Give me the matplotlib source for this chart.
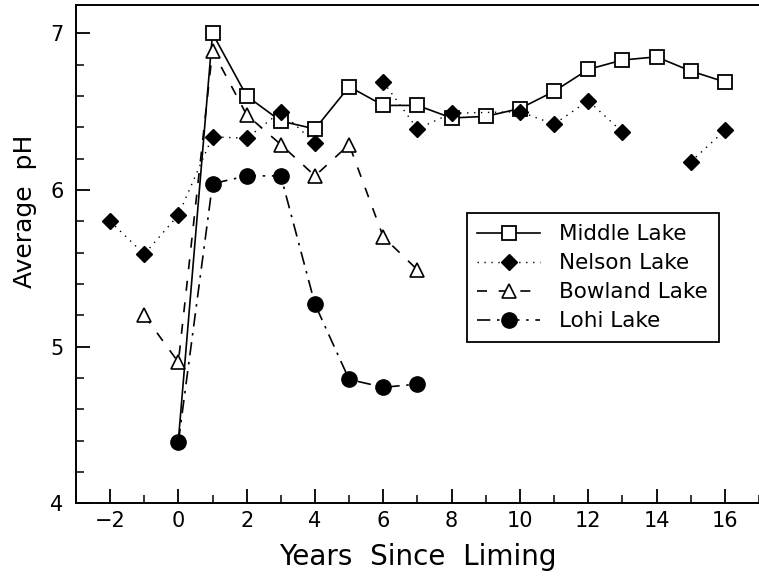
import matplotlib
matplotlib.use("Agg")
import matplotlib.pyplot as plt
import numpy as np
from matplotlib.ticker import MultipleLocator

plt.rcParams["font.family"] = ["DejaVu Sans"]

# Years since liming and average pH per lake (NaN = no sample, line broken)
middle_years = [0, 1, 2, 3, 4, 5, 6, 7, 8, 9, 10, 11, 12, 13, 14, 15, 16]
middle_ph = [4.40, 7.00, 6.60, 6.44, 6.39, 6.66, 6.54, 6.54, 6.46, 6.47,
             6.52, 6.63, 6.77, 6.83, 6.85, 6.76, 6.69]

nelson_years = [-2, -1, 0, 1, 2, 3, 4, 5, 6, 7, 8, 10, 11, 12, 13, 14, 15, 16]
nelson_ph = [5.80, 5.59, 5.84, 6.34, 6.33, 6.50, 6.30, np.nan, 6.69, 6.39,
             6.49, 6.50, 6.42, 6.57, 6.37, np.nan, 6.18, 6.38]

bowland_years = [-1, 0, 1, 2, 3, 4, 5, 6, 7]
bowland_ph = [5.20, 4.90, 6.89, 6.48, 6.29, 6.09, 6.29, 5.70, 5.49]

lohi_years = [0, 1, 2, 3, 4, 5, 6, 7]
lohi_ph = [4.39, 6.04, 6.09, 6.09, 5.27, 4.79, 4.74, 4.76]

fig = plt.figure(figsize=(7.59, 5.79), dpi=100)
ax = fig.add_axes([0.100, 0.131, 0.900, 0.860])

lw = 1.2
ax.plot(middle_years, middle_ph, color="black", lw=lw, ls="-",
        marker="s", ms=10, mfc="white", mec="black", mew=1.3,
        markevery=list(range(1, len(middle_years))), label="Middle Lake")
ax.plot(nelson_years, nelson_ph, color="black", lw=1.0, ls=(0, (1, 4)),
        marker="D", ms=8, mfc="black", mec="black", label="Nelson Lake")
ax.plot(bowland_years, bowland_ph, color="black", lw=lw, ls=(0, (6, 7)),
        marker="^", ms=10, mfc="white", mec="black", mew=1.2,
        label="Bowland Lake")
ax.plot(lohi_years, lohi_ph, color="black", lw=lw, ls=(0, (8, 4, 1.5, 4)),
        marker="o", ms=11, mfc="black", mec="black", label="Lohi Lake")

ax.set_xlim(-3, 17)
ax.set_ylim(4, 7.18)
ax.xaxis.set_major_locator(MultipleLocator(2))
ax.xaxis.set_minor_locator(MultipleLocator(1))
ax.yaxis.set_major_locator(MultipleLocator(1))
ax.yaxis.set_minor_locator(MultipleLocator(0.2))
ax.tick_params(axis="both", which="major", direction="in", length=10,
               width=1.3, labelsize=15)
ax.tick_params(axis="both", which="minor", direction="in", length=6,
               width=1.1)
ax.tick_params(axis="y", which="major", pad=9)
ax.tick_params(axis="x", which="major", pad=6)
ax.tick_params(top=False, right=False, which="both")

ax.spines["right"].set_visible(False)
for side in ("left", "bottom", "top"):
    ax.spines[side].set_linewidth(1.4)

ax.set_xlabel("Years  Since  Liming", fontsize=20, labelpad=8)
ax.set_ylabel("Average  pH", fontsize=18)
ax.yaxis.set_label_coords(-0.057, 0.586)

leg = ax.legend(loc="upper left", bbox_to_anchor=(0.572, 0.582),
                borderaxespad=0, fontsize=15.5, handlelength=2.9,
                handletextpad=0.9, labelspacing=0.42, fancybox=False,
                edgecolor="black", framealpha=1, borderpad=0.5)
leg.get_frame().set_linewidth(1.3)

fig.savefig("out.png", dpi=100)
